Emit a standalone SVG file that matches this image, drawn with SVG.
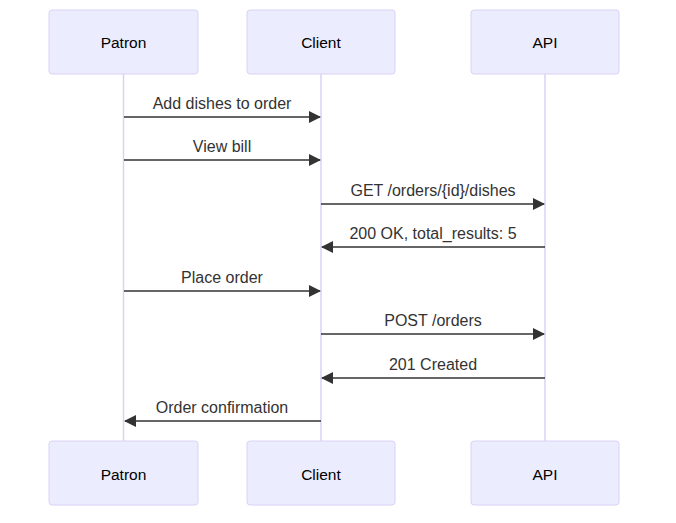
<svg xmlns="http://www.w3.org/2000/svg" width="676" height="523" viewBox="0 0 676 523">
<style>
.actor{fill:#ECECFF;stroke:#DAD2F4;stroke-width:1}
.life{stroke:#DAD2F4;stroke-width:1.5}
.atext{font-family:"Liberation Sans",Arial,sans-serif;font-size:15.5px;fill:#000;text-anchor:middle;dominant-baseline:central}
.msg{stroke:#333;stroke-width:1.5;fill:none}
.mtext{font-family:"Liberation Sans",Arial,sans-serif;font-size:16px;fill:#333;text-anchor:middle}
</style>
<defs>
<marker id="ah" viewBox="0 0 12 12" refX="11" refY="6" markerWidth="12" markerHeight="12" markerUnits="userSpaceOnUse" orient="auto">
<path d="M0,0 L12,6 L0,12 z" fill="#333"/>
</marker>
</defs>
<g id="lifelines">
<line class="life" x1="123.5" y1="74" x2="123.5" y2="441"/>
<line class="life" x1="321" y1="74" x2="321" y2="441"/>
<line class="life" x1="545" y1="74" x2="545" y2="441"/>
</g>
<g id="patron-top"><rect class="actor" x="49" y="10" width="149" height="64" rx="3"/><text class="atext" x="123.5" y="42">Patron</text></g>
<g id="client-top"><rect class="actor" x="247" y="10" width="148" height="64" rx="3"/><text class="atext" x="321" y="42">Client</text></g>
<g id="api-top"><rect class="actor" x="471" y="10" width="148" height="64" rx="3"/><text class="atext" x="545" y="42">API</text></g>
<g id="patron-bottom"><rect class="actor" x="49" y="441" width="149" height="64" rx="3"/><text class="atext" x="123.5" y="474">Patron</text></g>
<g id="client-bottom"><rect class="actor" x="247" y="441" width="148" height="64" rx="3"/><text class="atext" x="321" y="474">Client</text></g>
<g id="api-bottom"><rect class="actor" x="471" y="441" width="148" height="64" rx="3"/><text class="atext" x="545" y="474">API</text></g>
<g id="connectors">
<line class="msg" x1="124" y1="117" x2="320" y2="117" marker-end="url(#ah)"/>
<text class="mtext" x="222" y="109">Add dishes to order</text>
<line class="msg" x1="124" y1="160" x2="320" y2="160" marker-end="url(#ah)"/>
<text class="mtext" x="222" y="152">View bill</text>
<line class="msg" x1="321" y1="204" x2="544" y2="204" marker-end="url(#ah)"/>
<text class="mtext" x="433" y="196">GET /orders/{id}/dishes</text>
<line class="msg" x1="545" y1="247" x2="322" y2="247" marker-end="url(#ah)"/>
<text class="mtext" x="433" y="239">200 OK, total_results: 5</text>
<line class="msg" x1="124" y1="291" x2="320" y2="291" marker-end="url(#ah)"/>
<text class="mtext" x="222" y="283">Place order</text>
<line class="msg" x1="321" y1="334" x2="544" y2="334" marker-end="url(#ah)"/>
<text class="mtext" x="433" y="326">POST /orders</text>
<line class="msg" x1="545" y1="378" x2="322" y2="378" marker-end="url(#ah)"/>
<text class="mtext" x="433" y="370">201 Created</text>
<line class="msg" x1="321" y1="421" x2="125" y2="421" marker-end="url(#ah)"/>
<text class="mtext" x="222" y="413">Order confirmation</text>
</g>
</svg>
